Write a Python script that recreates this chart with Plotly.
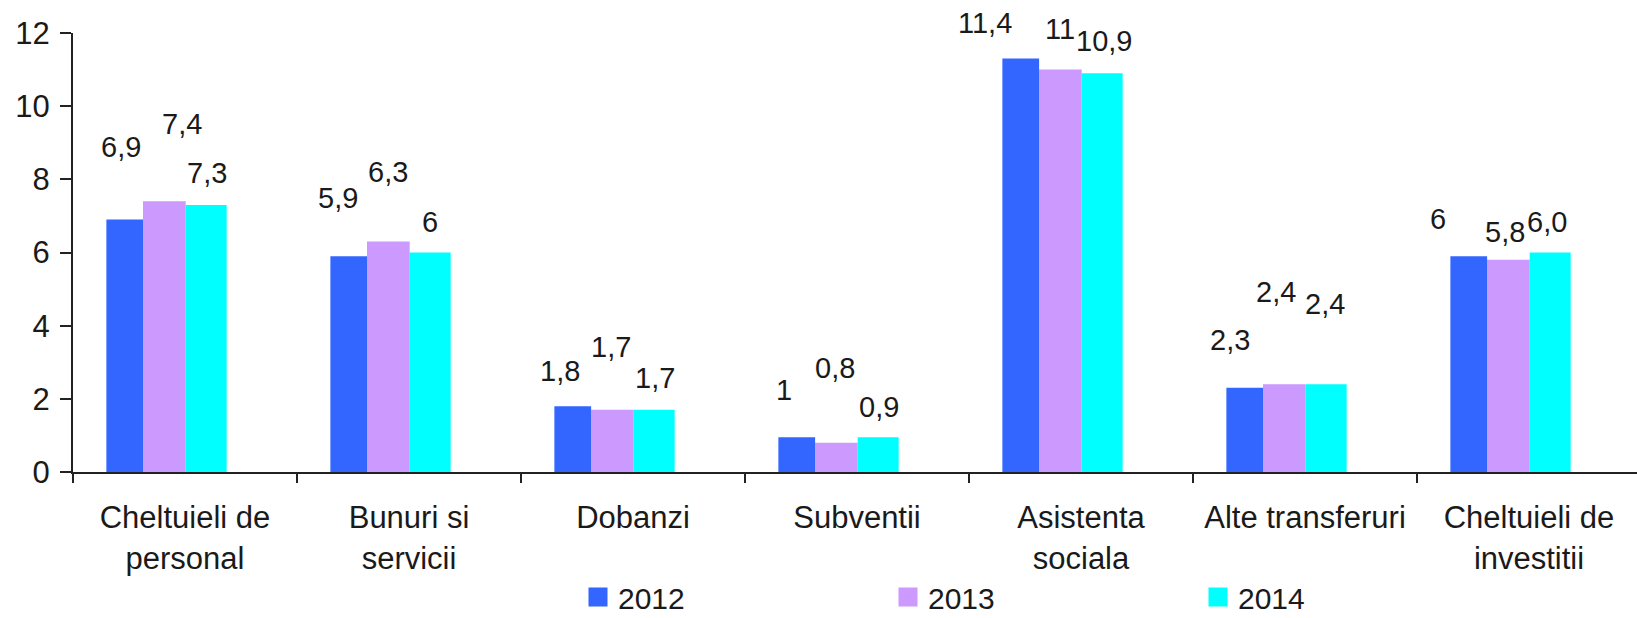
import plotly.graph_objects as go

# ---------------- data ----------------
categories = ["Cheltuieli de<br>personal", "Bunuri si<br>servicii", "Dobanzi", "Subventii",
              "Asistenta<br>sociala", "Alte transferuri", "Cheltuieli de<br>investitii"]
series_names = ["2012", "2013", "2014"]
values_2012 = [6.9, 5.9, 1.8, 0.95, 11.3, 2.3, 5.9]
values_2013 = [7.4, 6.3, 1.7, 0.8, 11.0, 2.4, 5.8]
values_2014 = [7.3, 6.0, 1.7, 0.95, 10.9, 2.4, 6.0]
labels_2012 = ["6,9", "5,9", "1,8", "1", "11,4", "2,3", "6"]
labels_2013 = ["7,4", "6,3", "1,7", "0,8", "11", "2,4", "5,8"]
labels_2014 = ["7,3", "6", "1,7", "0,9", "10,9", "2,4", "6,0"]
y_ticks = [0, 2, 4, 6, 8, 10, 12]

# ---------------- style / layout ----------------
colors = ["#3366FF", "#CC99FF", "#00FFFF"]
bar_offsets = [-0.351, -0.1875, 0.003]     # in category units
bar_widths = [0.164, 0.1906, 0.183]
# label shifts (px) relative to bar top centre: (dx, dy-up)
label_shifts = [
    [(-3.6, 73), (-10.6, 58), (-12.5, 35), (-13, 47), (-35.5, 36), (-14.3, 48), (-30.7, 37)],
    [(18, 77), (0, 70), (-1.6, 63), (-1, 75), (0, 41), (-8, 92), (-3, 28)],
    [(1.3, 32), (0, 31), (0.8, 32), (0.6, 30), (1.6, 32), (-0.9, 80), (-3.4, 31)],
]
FONT = "Liberation Sans, Arial, sans-serif"
TXT = "#1a1a1a"
AX = "#222222"

all_values = [values_2012, values_2013, values_2014]
all_labels = [labels_2012, labels_2013, labels_2014]

fig = go.Figure()
for s in range(3):
    fig.add_trace(go.Bar(
        x=categories, y=all_values[s], name=series_names[s],
        marker=dict(color=colors[s], line=dict(width=0)),
        offset=bar_offsets[s], width=bar_widths[s],
        showlegend=False, hoverinfo="x+y",
    ))
# legend entries
for s in range(3):
    fig.add_trace(go.Scatter(
        x=[None], y=[None], mode="markers", name=series_names[s],
        marker=dict(symbol="square", size=16, color=colors[s],
                    line=dict(width=3, color=colors[s])),
        showlegend=True,
    ))

annotations = []
for s in range(3):
    for i, cat in enumerate(categories):
        dx, dy = label_shifts[s][i]
        annotations.append(dict(
            x=i + bar_offsets[s] + bar_widths[s] / 2, y=all_values[s][i],
            xref="x", yref="y", text=all_labels[s][i], showarrow=False,
            xanchor="center", yanchor="middle", xshift=dx, yshift=dy,
            font=dict(family=FONT, size=29, color=TXT),
        ))

W, H = 1637, 618
L, R, T, B = 73, 0, 33, 146
cat_px = 224.0
plot_w = W - L - R
fig.update_layout(
    width=W, height=H,
    margin=dict(l=L, r=R, t=T, b=B, autoexpand=False),
    paper_bgcolor="white", plot_bgcolor="white",
    barmode="overlay",
    font=dict(family=FONT, color=TXT),
    annotations=annotations,
    showlegend=True,
    legend=dict(orientation="h", x=(578 - L) / plot_w, xanchor="left",
                y=-(571 - (H - B)) / (H - T - B), yanchor="top",
                entrywidth=265, entrywidthmode="pixels",
                font=dict(family=FONT, size=30, color=TXT),
                bgcolor="rgba(0,0,0,0)", borderwidth=0),
    xaxis=dict(type="category", categoryorder="array", categoryarray=categories,
               range=[-0.5, -0.5 + plot_w / cat_px],
               showline=True, linecolor=AX, linewidth=2,
               ticks="outside", tickson="boundaries", ticklen=9, tickwidth=2, tickcolor=AX,
               showgrid=False, zeroline=False, ticklabelstandoff=17,
               tickfont=dict(family=FONT, size=31, color=TXT)),
    yaxis=dict(range=[0, 12], tickvals=y_ticks, ticktext=[str(v) for v in y_ticks],
               showline=True, linecolor=AX, linewidth=2,
               ticks="outside", ticklen=11, tickwidth=2, tickcolor=AX,
               showgrid=False, zeroline=False, ticklabelstandoff=4,
               tickfont=dict(family=FONT, size=31, color=TXT)),
)

fig.write_html("out.html", config={"displayModeBar": False},
               post_script="document.body.style.margin='0';")
